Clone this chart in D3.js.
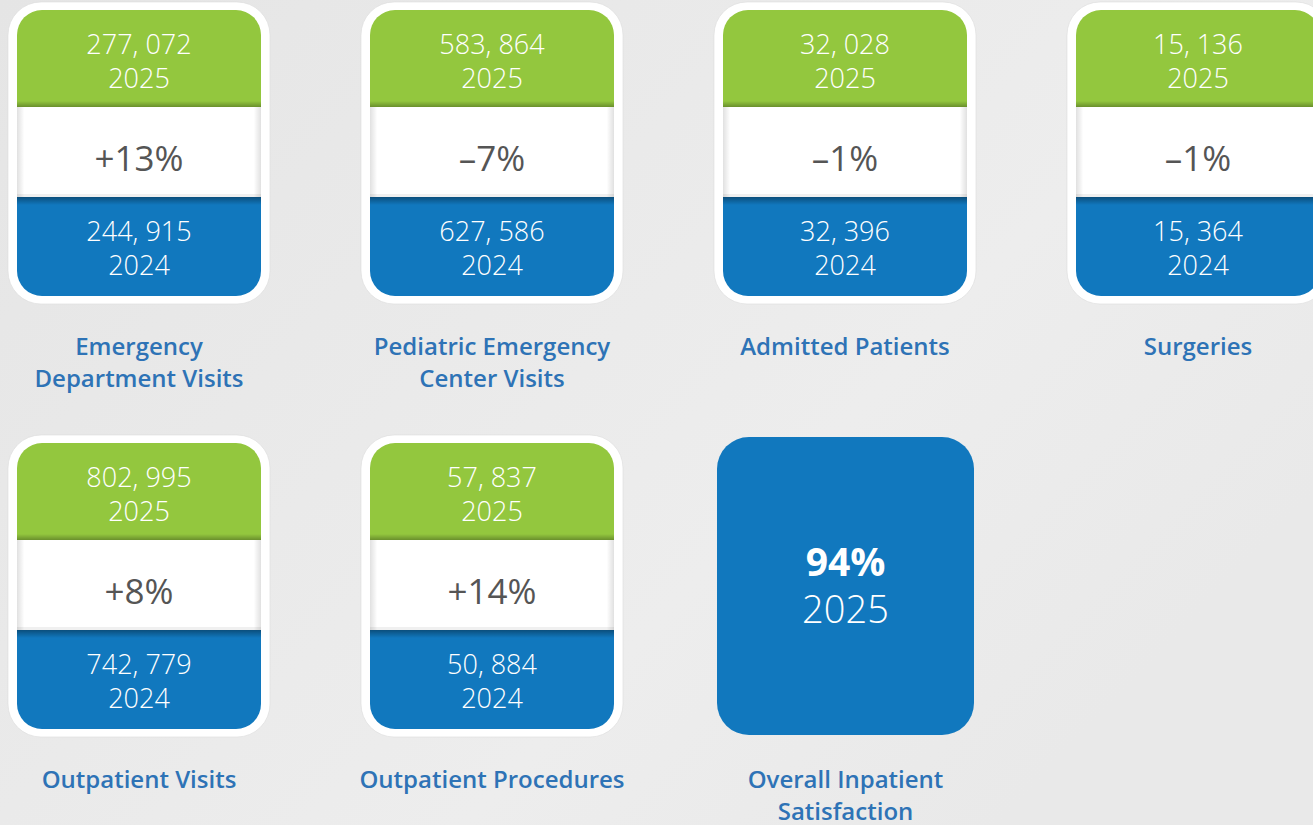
<!DOCTYPE html>
<html><head><meta charset="utf-8">
<script src="https://cdn.jsdelivr.net/npm/d3@7"></script>
<style>html,body{margin:0;padding:0;overflow:hidden;background:#e8e8e8}</style>
</head><body>
<svg id="chart" width="1313" height="825"></svg>
<script>
// ---- data ----
const metrics = ["Emergency Department Visits","Pediatric Emergency Center Visits","Admitted Patients","Surgeries","Outpatient Visits","Outpatient Procedures"];
const labelLines = [["Emergency","Department Visits"],["Pediatric Emergency","Center Visits"],["Admitted Patients"],["Surgeries"],["Outpatient Visits"],["Outpatient Procedures"]];
const values2025 = [277072, 583864, 32028, 15136, 802995, 57837];
const values2024 = [244915, 627586, 32396, 15364, 742779, 50884];
const changeLabels = ["+13%","–7%","–1%","–1%","+8%","+14%"];
const yearLabels = ["2025","2024"];
const satisfactionValue = 94;
const satisfactionLabel = ["Overall Inpatient","Satisfaction"];

const GREEN="#93c73e", BLUE="#1178be", LABEL="#2e73b6";
const svg = d3.select("#chart");
const defs = svg.append("defs");

// background
const bg = defs.append("linearGradient").attr("id","bg").attr("x1","0").attr("y1","0").attr("x2","1").attr("y2","0.6");
bg.append("stop").attr("offset","0").attr("stop-color","#e5e5e5");
bg.append("stop").attr("offset","0.7").attr("stop-color","#ededed");
bg.append("stop").attr("offset","1").attr("stop-color","#e9e9e9");
svg.append("rect").attr("width",1313).attr("height",825).attr("fill","url(#bg)");

// shadow gradients
const gTop = defs.append("linearGradient").attr("id","shTop").attr("x1",0).attr("y1",0).attr("x2",0).attr("y2",1);
gTop.append("stop").attr("offset",0).attr("stop-color","#000").attr("stop-opacity",0.0);
gTop.append("stop").attr("offset",1).attr("stop-color","#000").attr("stop-opacity",0.28);
const gBlue = defs.append("linearGradient").attr("id","shBlue").attr("x1",0).attr("y1",0).attr("x2",0).attr("y2",1);
gBlue.append("stop").attr("offset",0).attr("stop-color","#000").attr("stop-opacity",0.35);
gBlue.append("stop").attr("offset",1).attr("stop-color","#000").attr("stop-opacity",0);
const gSide = defs.append("linearGradient").attr("id","shSide").attr("x1",0).attr("y1",0).attr("x2",1).attr("y2",0);
gSide.append("stop").attr("offset",0).attr("stop-color","#000").attr("stop-opacity",0.12);
gSide.append("stop").attr("offset",0.03).attr("stop-color","#000").attr("stop-opacity",0);
gSide.append("stop").attr("offset",0.97).attr("stop-color","#000").attr("stop-opacity",0);
gSide.append("stop").attr("offset",1).attr("stop-color","#000").attr("stop-opacity",0.12);

// scales
const x = d3.scaleBand().domain([0,1,2,3]).range([17, 17+353*4]);
const y = d3.scaleBand().domain([0,1]).range([10, 10+433*2]);
const cardW = 244, cardH = 286;
const sec = d3.scaleOrdinal().domain(["top","mid","bot","end"]).range([0, 97, 187, 286]);

const fmt = v => d3.format(",")(v).replace(/,/g, ", ");
const FONT = "'Open Sans', 'Noto Sans', sans-serif";

metrics.forEach((m, i) => {
  const row = i < 4 ? 0 : 1;
  const c = i < 4 ? i : i - 4;
  const x0 = x(c), y0 = y(row), cx = x0 + cardW/2;
  const g = svg.append("g");
  g.append("rect").attr("x", x0-9).attr("y", y0-8).attr("width", cardW+18).attr("height", cardH+16)
    .attr("rx", 33).attr("fill", "#fff").attr("stroke","#dcdcdc").attr("stroke-width",0.6);
  const cid = "clip"+i;
  defs.append("clipPath").attr("id", cid).append("rect")
    .attr("x", x0).attr("y", y0).attr("width", cardW).attr("height", cardH).attr("rx", 25);
  const inner = g.append("g").attr("clip-path", `url(#${cid})`);
  inner.append("rect").attr("x",x0).attr("y",y0).attr("width",cardW).attr("height",sec("mid")).attr("fill",GREEN);
  inner.append("rect").attr("x",x0).attr("y",y0+sec("mid")-6).attr("width",cardW).attr("height",6).attr("fill","url(#shTop)");
  inner.append("rect").attr("x",x0).attr("y",y0+sec("mid")).attr("width",cardW).attr("height",sec("bot")-sec("mid")).attr("fill","#fff");
  inner.append("rect").attr("x",x0).attr("y",y0+sec("mid")).attr("width",cardW).attr("height",sec("bot")-sec("mid")).attr("fill","url(#shSide)");
  inner.append("rect").attr("x",x0).attr("y",y0+sec("bot")-3).attr("width",cardW).attr("height",3).attr("fill","#000").attr("opacity",0.06);
  inner.append("rect").attr("x",x0).attr("y",y0+sec("bot")).attr("width",cardW).attr("height",sec("end")-sec("bot")).attr("fill",BLUE);
  inner.append("rect").attr("x",x0).attr("y",y0+sec("bot")).attr("width",cardW).attr("height",8).attr("fill","url(#shBlue)");

  const txt = (t, yy, size, fill, weight) => g.append("text").attr("x", cx).attr("y", yy)
    .attr("text-anchor","middle").attr("dominant-baseline","central")
    .attr("font-family", FONT).attr("font-size", size).attr("font-weight", weight||400)
    .attr("fill", fill).text(t);
  txt(fmt(values2025[i]), y0+33, 27, "#fff", 300);
  txt(yearLabels[0], y0+67, 27, "#fff", 300);
  txt(changeLabels[i], y0+147, 35, "#555", 400);
  txt(fmt(values2024[i]), y0+220, 27, "#fff", 300);
  txt(yearLabels[1], y0+254, 27, "#fff", 300);
  labelLines[i].forEach((ln, k) => {
    g.append("text").attr("x", cx).attr("y", y0+335+k*32).attr("text-anchor","middle")
      .attr("dominant-baseline","central").attr("font-family", FONT).attr("font-size", 24)
      .attr("font-weight", 600).attr("fill", LABEL).text(ln);
  });
});

// satisfaction card
{
  const x0 = x(2) - 6, y0 = y(1) - 6, w = 257, h = 298, cx = x0 + w/2;
  const g = svg.append("g");
  g.append("rect").attr("x",x0).attr("y",y0).attr("width",w).attr("height",h).attr("rx",32).attr("fill",BLUE);
  g.append("text").attr("x",cx).attr("y",y0+139).attr("text-anchor","middle")
    .attr("font-family",FONT).attr("font-size",39).attr("font-weight",700).attr("fill","#fff").text(satisfactionValue+"%");
  g.append("text").attr("x",cx).attr("y",y0+186).attr("text-anchor","middle")
    .attr("font-family",FONT).attr("font-size",38).attr("font-weight",300).attr("fill","#fff").text(yearLabels[0]);
  satisfactionLabel.forEach((ln,k)=>{
    g.append("text").attr("x",cx).attr("y",y(1)+335+k*32).attr("text-anchor","middle")
      .attr("dominant-baseline","central").attr("font-family",FONT).attr("font-size",24)
      .attr("font-weight",600).attr("fill",LABEL).text(ln);
  });
}
</script>
</body></html>
